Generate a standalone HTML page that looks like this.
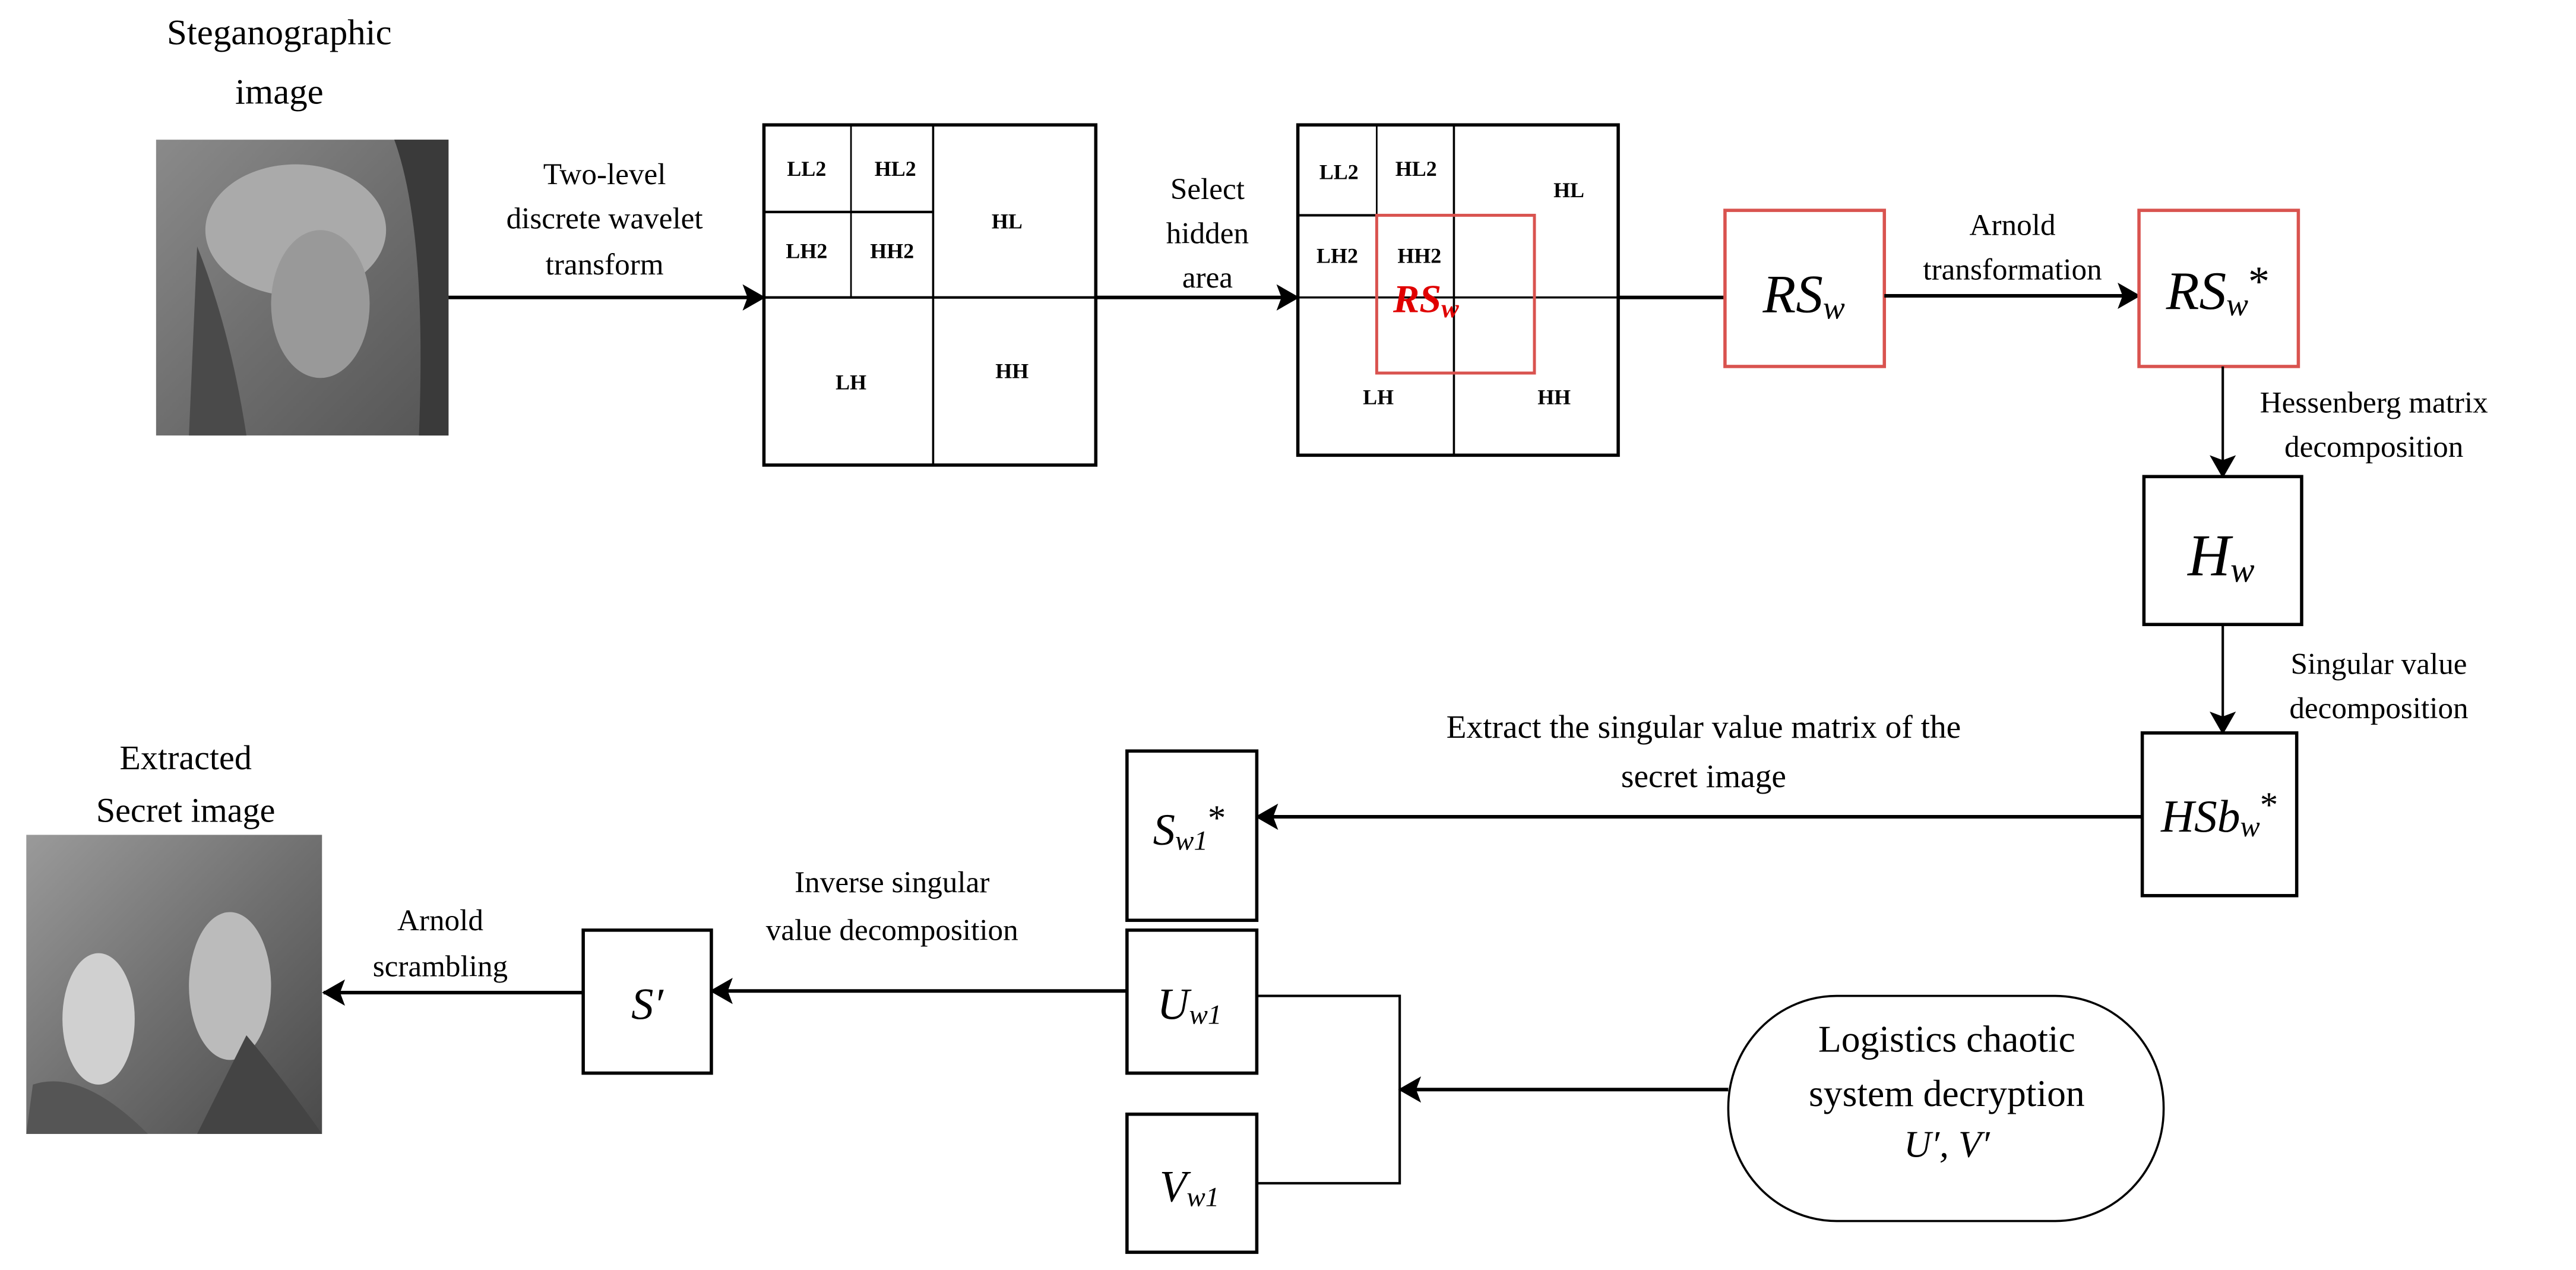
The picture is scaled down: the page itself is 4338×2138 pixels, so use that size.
<!DOCTYPE html>
<html><head><meta charset="utf-8"><style>html,body{margin:0;padding:0;background:#fff}svg{display:block}</style></head>
<body>
<svg width="4338" height="2138" viewBox="0 0 1568 772.8" xmlns="http://www.w3.org/2000/svg" font-family="'Liberation Serif', serif">
<defs>
<marker id="ah" markerWidth="14" markerHeight="16" refX="13" refY="8" orient="auto" markerUnits="userSpaceOnUse">
<path d="M0,0 L14,8 L0,16 L3,8 Z" fill="#000"/></marker>
<linearGradient id="lena" x1="0" y1="0" x2="1" y2="1"><stop offset="0" stop-color="#8a8a8a"/><stop offset="0.5" stop-color="#6e6e6e"/><stop offset="1" stop-color="#555"/></linearGradient>
<linearGradient id="par" x1="0" y1="0" x2="1" y2="1"><stop offset="0" stop-color="#9a9a9a"/><stop offset="0.5" stop-color="#707070"/><stop offset="1" stop-color="#4a4a4a"/></linearGradient>
</defs>
<g fill="#000" text-anchor="middle">
<text x="170" y="27" font-size="22">Steganographic</text>
<text x="170" y="63" font-size="22">image</text>
<rect x="95" y="85" width="178" height="180" fill="url(#lena)"/>
<ellipse cx="180" cy="140" rx="55" ry="40" fill="#aaa"/>
<ellipse cx="195" cy="185" rx="30" ry="45" fill="#999"/>
<path d="M120,150 Q140,200 150,265 L115,265 Z" fill="#4a4a4a"/>
<path d="M240,85 Q260,140 255,265 L273,265 L273,85 Z" fill="#3a3a3a"/>
<line x1="273" y1="181" x2="465" y2="181" stroke="#000" stroke-width="2.2" marker-end="url(#ah)"/>
<text x="368" y="112" font-size="18.5">Two-level</text>
<text x="368" y="139" font-size="18.5">discrete wavelet</text>
<text x="368" y="167" font-size="18.5">transform</text>
<g fill="none" stroke="#000">
<rect x="465" y="76" width="202" height="207" stroke-width="2"/>
<line x1="465" y1="181" x2="667" y2="181" stroke-width="1.5"/>
<line x1="568" y1="76" x2="568" y2="283" stroke-width="1.3"/>
<line x1="465" y1="129" x2="568" y2="129" stroke-width="1.5"/>
<line x1="518" y1="76" x2="518" y2="181" stroke-width="1"/>
</g>
<g font-size="13" font-weight="bold">
<text x="491" y="107">LL2</text><text x="545" y="107">HL2</text>
<text x="491" y="157">LH2</text><text x="543" y="157">HH2</text>
<text x="613" y="139">HL</text><text x="518" y="237">LH</text><text x="616" y="230">HH</text>
</g>
<line x1="667" y1="181" x2="790" y2="181" stroke="#000" stroke-width="2.2" marker-end="url(#ah)"/>
<text x="735" y="121" font-size="18.5">Select</text>
<text x="735" y="148" font-size="18.5">hidden</text>
<text x="735" y="175" font-size="18.5">area</text>
<g fill="none" stroke="#000">
<rect x="790" y="76" width="195" height="201" stroke-width="2"/>
<line x1="790" y1="181" x2="985" y2="181" stroke-width="1.3"/>
<line x1="885" y1="76" x2="885" y2="277" stroke-width="1.3"/>
<line x1="790" y1="131" x2="838" y2="131" stroke-width="1.5"/>
<line x1="838" y1="76" x2="838" y2="131" stroke-width="1"/>
</g>
<rect x="838" y="131" width="96" height="96" fill="none" stroke="#d9534f" stroke-width="1.8"/>
<g font-size="13" font-weight="bold">
<text x="815" y="109">LL2</text><text x="862" y="107">HL2</text>
<text x="814" y="160">LH2</text><text x="864" y="160">HH2</text>
<text x="955" y="120">HL</text><text x="839" y="246">LH</text><text x="946" y="246">HH</text>
</g>
<text x="868" y="190" font-size="24" font-style="italic" font-weight="bold" fill="#e00000">RS<tspan font-size="16" dy="3">w</tspan></text>
<line x1="985" y1="181" x2="1050" y2="181" stroke="#000" stroke-width="2.2"/>
<rect x="1050" y="128" width="97" height="95" fill="none" stroke="#d9534f" stroke-width="2"/>
<text x="1098" y="190" font-size="33" font-style="italic">RS<tspan font-size="20" dy="4">w</tspan></text>
<line x1="1147" y1="180" x2="1302" y2="180" stroke="#000" stroke-width="2.2" marker-end="url(#ah)"/>
<text x="1225" y="143" font-size="18.5">Arnold</text>
<text x="1225" y="170" font-size="18.5">transformation</text>
<rect x="1302" y="128" width="97" height="95" fill="none" stroke="#d9534f" stroke-width="2"/>
<text x="1350" y="188" font-size="33" font-style="italic">RS<tspan font-size="20" dy="4">w</tspan><tspan dy="-12" font-style="normal" font-size="26">*</tspan></text>
<line x1="1353" y1="223" x2="1353" y2="290" stroke="#000" stroke-width="1.5" marker-end="url(#ah)"/>
<text x="1445" y="251" font-size="18.5">Hessenberg matrix</text>
<text x="1445" y="278" font-size="18.5">decomposition</text>
<rect x="1305" y="290" width="96" height="90" fill="none" stroke="#000" stroke-width="2"/>
<text x="1352" y="350" font-size="36" font-style="italic">H<tspan font-size="22" dy="4">w</tspan></text>
<line x1="1353" y1="380" x2="1353" y2="446" stroke="#000" stroke-width="1.5" marker-end="url(#ah)"/>
<text x="1448" y="410" font-size="18.5">Singular value</text>
<text x="1448" y="437" font-size="18.5">decomposition</text>
<rect x="1304" y="446" width="94" height="99" fill="none" stroke="#000" stroke-width="2"/>
<text x="1351" y="506" font-size="28" font-style="italic">HSb<tspan font-size="18" dy="3">w</tspan><tspan dy="-12" font-style="normal" font-size="22">*</tspan></text>
<line x1="1304" y1="497" x2="765" y2="497" stroke="#000" stroke-width="2.2" marker-end="url(#ah)"/>
<text x="1037" y="449" font-size="20">Extract the singular value matrix of the</text>
<text x="1037" y="479" font-size="20">secret image</text>
<rect x="686" y="457" width="79" height="103" fill="none" stroke="#000" stroke-width="2"/>
<text x="724" y="514" font-size="27" font-style="italic">S<tspan font-size="17" dy="3">w1</tspan><tspan dy="-12" font-style="normal" font-size="22">*</tspan></text>
<rect x="686" y="566" width="79" height="87" fill="none" stroke="#000" stroke-width="2"/>
<text x="724" y="620" font-size="27" font-style="italic">U<tspan font-size="17" dy="3">w1</tspan></text>
<rect x="686" y="678" width="79" height="84" fill="none" stroke="#000" stroke-width="2"/>
<text x="724" y="731" font-size="27" font-style="italic">V<tspan font-size="17" dy="3">w1</tspan></text>
<polyline points="765,606 852,606 852,720 765,720" fill="none" stroke="#000" stroke-width="1.5"/>
<line x1="1052" y1="663" x2="852" y2="663" stroke="#000" stroke-width="2.2" marker-end="url(#ah)"/>
<rect x="1052" y="606" width="265" height="137" rx="66" ry="68" fill="none" stroke="#000" stroke-width="1.3"/>
<text x="1185" y="640" font-size="23">Logistics chaotic</text>
<text x="1185" y="673" font-size="23">system decryption</text>
<text x="1185" y="704" font-size="23" font-style="italic">U′, V′</text>
<line x1="686" y1="603" x2="433" y2="603" stroke="#000" stroke-width="2.2" marker-end="url(#ah)"/>
<text x="543" y="543" font-size="18.5">Inverse singular</text>
<text x="543" y="572" font-size="18.5">value decomposition</text>
<rect x="355" y="566" width="78" height="87" fill="none" stroke="#000" stroke-width="2"/>
<text x="394" y="620" font-size="27" font-style="italic">S′</text>
<line x1="355" y1="604" x2="197" y2="604" stroke="#000" stroke-width="2.2" marker-end="url(#ah)"/>
<text x="268" y="566" font-size="18.5">Arnold</text>
<text x="268" y="594" font-size="18.5">scrambling</text>
<text x="113" y="468" font-size="21">Extracted</text>
<text x="113" y="500" font-size="21">Secret image</text>
<rect x="16" y="508" width="180" height="182" fill="url(#par)"/>
<ellipse cx="60" cy="620" rx="22" ry="40" fill="#d0d0d0"/>
<ellipse cx="140" cy="600" rx="25" ry="45" fill="#bbb"/>
<path d="M150,630 Q175,660 196,690 L120,690 Z" fill="#444"/>
<path d="M20,660 Q50,650 90,690 L16,690 Z" fill="#555"/>
</g>
</svg>
</body></html>
